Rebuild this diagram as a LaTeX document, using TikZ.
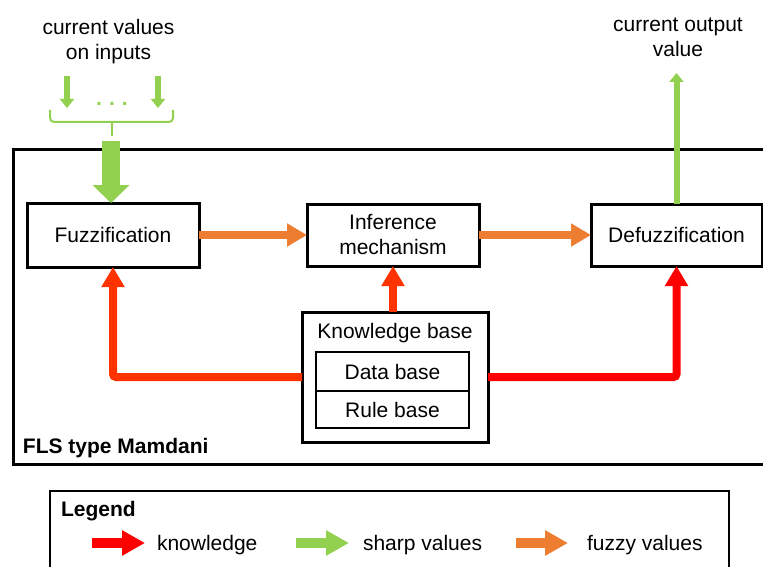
\documentclass[tikz,border=0pt]{standalone}
\usepackage{fontspec}
\setmainfont{Liberation Sans}
\usetikzlibrary{arrows.meta}
\definecolor{sharpgreen}{HTML}{92D050}
\definecolor{fuzzyorange}{HTML}{ED7D31}
\definecolor{knowred}{HTML}{FF3300}
\definecolor{knowpure}{HTML}{FF0000}
\begin{document}
\begin{tikzpicture}[x=1pt,y=-1pt,
  every node/.style={font=\fontsize{21}{25}\selectfont, inner sep=0pt, outer sep=0pt},
  boldtxt/.style={font=\fontsize{21}{25}\selectfont\bfseries},
  blk/.style={draw, line width=3pt, rectangle, align=center},
  subblk/.style={draw, line width=1.5pt, rectangle},
  fuzzyarrow/.style={draw=fuzzyorange, line width=8pt, -{Triangle[length=20pt,width=22pt]}},
  knowarrow/.style={draw=knowred, line width=8pt, rounded corners=3pt, -{Triangle[length=20pt,width=22pt]}},
  knowarrowpure/.style={knowarrow, draw=knowpure},
  thinsharp/.style={draw=sharpgreen, line width=6pt, -{Triangle[length=9pt,width=14pt]}},
  bigsharp/.style={draw=sharpgreen, line width=18pt, -{Triangle[length=18pt,width=36pt]}},
  bracepath/.style={draw=sharpgreen, line width=2pt, rounded corners=4pt},
  legarrow/.style={line width=10pt, -{Triangle[length=23pt,width=24pt]}}
]
\useasboundingbox (0,0) rectangle (763,567);

% outer frame of the fuzzy logic system
\draw[line width=3pt] (13,150) rectangle (790,464);
\node[boldtxt, anchor=base west] (flslabel) at (23,453) {FLS type Mamdani};

% processing blocks
\node[blk, minimum width=172pt, minimum height=64pt] (fuzz) at (113,235) {Fuzzification};
\node[blk, minimum width=172pt, minimum height=62pt] (inf) at (393,235) {Inference\\mechanism};
\node[blk, minimum width=171pt, minimum height=62pt] (defuzz) at (676.5,235) {Defuzzification};

% knowledge base with its two parts
\node[blk, minimum width=186pt, minimum height=130pt] (kb) at (395,377) {};
\node[anchor=base] (kbtitle) at (395,338) {Knowledge base};
\node[subblk, minimum width=153pt, minimum height=39pt] (db) at (392.5,371.5) {Data base};
\node[subblk, minimum width=153pt, minimum height=37pt] (rb) at (392.5,409.5) {Rule base};

% fuzzy value flow
\draw[fuzzyarrow] (fuzz.east) -- (inf.west);
\draw[fuzzyarrow] (inf.east) -- (defuzz.west);

% knowledge flow
\draw[knowarrow] (kb.north -| inf.south) -- (inf.south);
\draw[knowarrow] (kb.west) -| (fuzz.south);
\draw[knowarrowpure] (kb.east) -| (defuzz.south);

% inputs
\node[align=center] (intext) at (108.5,42) {current values\\on inputs};
\coordinate (inAstart) at (67,76);
\coordinate (inAend) at (67,108);
\coordinate (inBstart) at (158,76);
\coordinate (inBend) at (158,108);
\draw[thinsharp] (inAstart) -- (inAend);
\draw[thinsharp] (inBstart) -- (inBend);
\node[boldtxt, text=sharpgreen] (dots) at (112,104) {.\,\,.\,\,.};
\draw[bracepath] (50,110) -- (50,122) -- (173,122) -- (173,110);
\coordinate (bracetip) at (112,136);
\draw[draw=sharpgreen, line width=2pt] (112,122) -- (bracetip);
\coordinate (bigstart) at (111,141);
\draw[bigsharp] (bigstart) -- (bigstart |- fuzz.north);

% output
\coordinate (outlevel) at (0,73);
\draw[thinsharp] (defuzz.north) -- (defuzz.north |- outlevel);
\node[align=center] (outtext) at (678,37) {current output\\value};

% legend
\draw[line width=2pt] (50,491) rectangle (729,600);
\node[boldtxt, anchor=base west] (legtitle) at (61,516) {Legend};
\coordinate (lkA) at (92,543);  \coordinate (lkB) at (145,543);
\coordinate (lsA) at (296,543); \coordinate (lsB) at (349,543);
\coordinate (lfA) at (516,543); \coordinate (lfB) at (568,543);
\draw[legarrow, draw=knowpure] (lkA) -- (lkB);
\draw[legarrow, draw=sharpgreen] (lsA) -- (lsB);
\draw[legarrow, draw=fuzzyorange] (lfA) -- (lfB);
\node[anchor=base west] (lktext) at (157,550) {knowledge};
\node[anchor=base west] (lstext) at (363,550) {sharp values};
\node[anchor=base west] (lftext) at (587,550) {fuzzy values};
\end{tikzpicture}
\end{document}
